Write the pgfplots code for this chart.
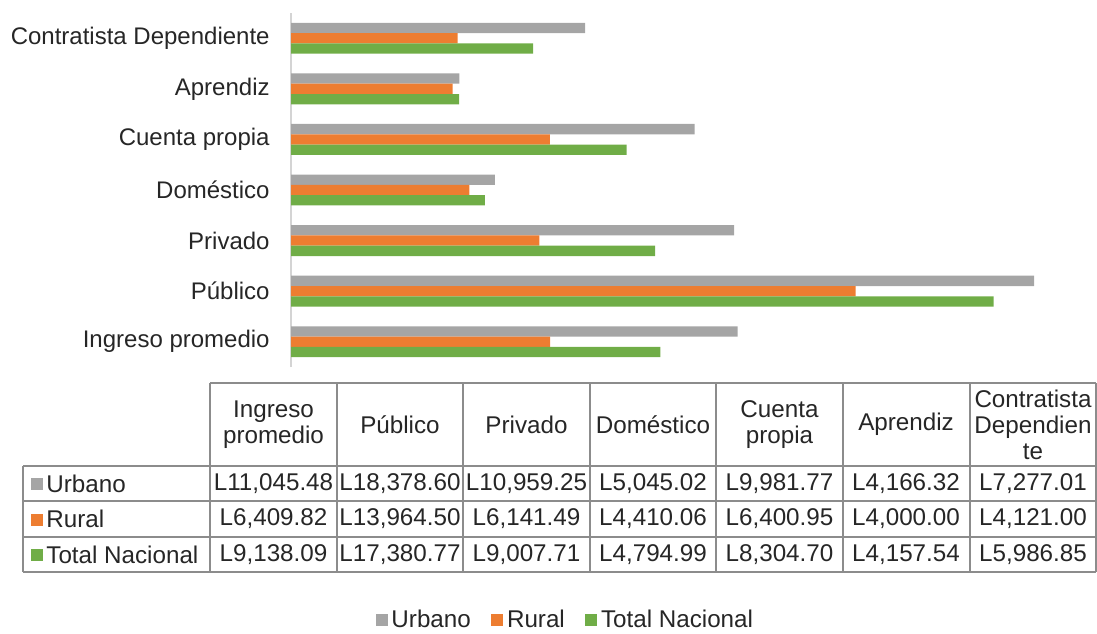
\documentclass[border=0pt]{standalone}
\usepackage{fontspec}
\setmainfont{Liberation Sans}
\usepackage{pgfplots}
\pgfplotsset{compat=1.18}
\definecolor{cu}{HTML}{A5A5A5}
\definecolor{cr}{HTML}{ED7D31}
\definecolor{ct}{HTML}{70AD47}
\definecolor{txt}{HTML}{262626}
\definecolor{tbl}{HTML}{8C8C8C}
\definecolor{axc}{HTML}{D4D4D4}
\begin{document}
\begin{tikzpicture}[font=\fontsize{12.1}{13}\selectfont]
\path[use as bounding box] (0pt,0pt) rectangle (548.5pt,-316.5pt);
\begin{axis}[
  at={(145.5pt,-183.5pt)}, anchor=south west, scale only axis,
  width=371.5pt, height=177pt,
  xmin=0, xmax=18378.6, ymin=-0.5, ymax=6.5,
  axis x line=none, axis y line*=left,
  y axis line style={draw=axc, line width=0.9pt, -},
  ytick={0,...,6},
  yticklabels={Ingreso promedio, Público, Privado, Doméstico, Cuenta propia, Aprendiz, Contratista Dependiente},
  major tick length=0pt,
  yticklabel style={font=\fontsize{12}{13}\selectfont, text=txt, inner sep=0pt, xshift=-10.5pt},
  xbar, bar width=5.15pt,
  legend image code/.code={\fill[#1] (0pt,-3pt) rectangle (6pt,3pt);},
  legend style={draw=none, fill=none, at={(0.3705,-0.716)}, anchor=center,
    legend columns=-1, font=\fontsize{12.1}{13}\selectfont, text=txt,
    nodes={inner sep=1.8pt},
    /tikz/every even column/.append style={column sep=8.5pt}},
]
\addplot[xbar, bar shift=5.15pt, fill=cu, draw=none] coordinates {
  (11045.48,0) (18378.60,1) (10959.25,2) (5045.02,3) (9981.77,4) (4166.32,5) (7277.01,6)};
\addplot[xbar, bar shift=0pt, fill=cr, draw=none] coordinates {
  (6409.82,0) (13964.50,1) (6141.49,2) (4410.06,3) (6400.95,4) (4000.00,5) (4121.00,6)};
\addplot[xbar, bar shift=-5.15pt, fill=ct, draw=none] coordinates {
  (9138.09,0) (17380.77,1) (9007.71,2) (4794.99,3) (8304.70,4) (4157.54,5) (5986.85,6)};
\legend{Urbano, Rural, Total Nacional}
\end{axis}
\begin{scope}[x=0.5pt,y=-0.5pt]
% data table
\begin{scope}[line width=1pt, draw=tbl]
\draw (210,383) -- (1096,383);
\draw (23,466) -- (1096,466);
\draw (23,501) -- (1096,501);
\draw (23,537) -- (1096,537);
\draw (23,572) -- (1096,572);
\draw (23,466) -- (23,572);
\foreach \x in {210,337,463,590,716,843,970,1096} \draw (\x,383) -- (\x,572);
\end{scope}
\begin{scope}[text=txt]
\node[align=center] at (273.5,424.5) {Ingreso\\promedio};
\node[align=center] at (400,424.5) {Público};
\node[align=center] at (526.5,424.5) {Privado};
\node[align=center] at (653,424.5) {Doméstico};
\node[align=center] at (779.5,424.5) {Cuenta\\propia};
\node[align=center] at (906,424.5) {Aprendiz};
\node[align=center] at (1033,424.5) {Contratista\\Dependien\\te};
% row labels
\fill[cu] (31,478) rectangle (43,490);
\fill[cr] (31,513.5) rectangle (43,525.5);
\fill[ct] (31,549) rectangle (43,561);
\node[anchor=west, inner sep=0pt] at (46,483.5) {Urbano};
\node[anchor=west, inner sep=0pt] at (46,519) {Rural};
\node[anchor=west, inner sep=0pt] at (46,554.5) {Total Nacional};
% values
\foreach \x/\v in {273.5/{L11,045.48},400/{L18,378.60},526.5/{L10,959.25},653/{L5,045.02},779.5/{L9,981.77},906/{L4,166.32},1033/{L7,277.01}}
  \node at (\x,483.5) {\v};
\foreach \x/\v in {273.5/{L6,409.82},400/{L13,964.50},526.5/{L6,141.49},653/{L4,410.06},779.5/{L6,400.95},906/{L4,000.00},1033/{L4,121.00}}
  \node at (\x,519) {\v};
\foreach \x/\v in {273.5/{L9,138.09},400/{L17,380.77},526.5/{L9,007.71},653/{L4,794.99},779.5/{L8,304.70},906/{L4,157.54},1033/{L5,986.85}}
  \node at (\x,554.5) {\v};
\end{scope}
\end{scope}
\end{tikzpicture}
\end{document}
